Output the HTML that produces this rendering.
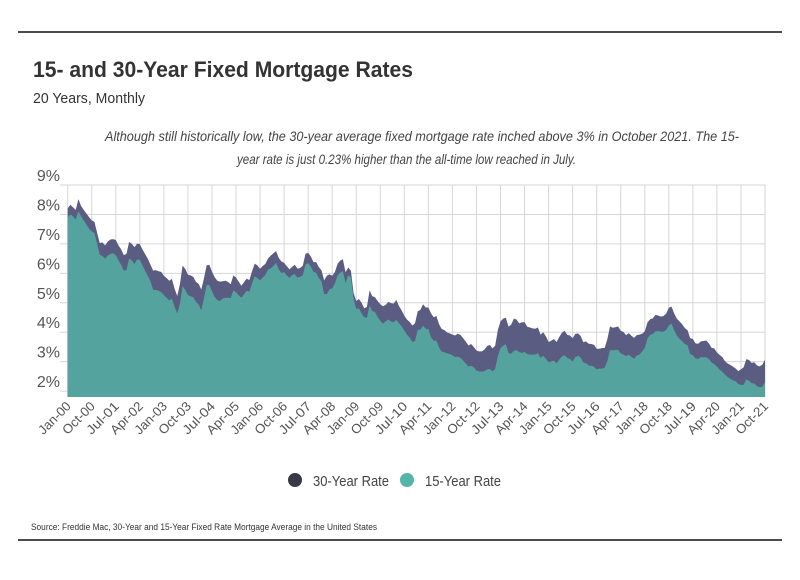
<!DOCTYPE html>
<html><head><meta charset="utf-8"><style>
html,body{margin:0;padding:0;background:#fff;}
svg text{font-family:"Liberation Sans",sans-serif;}
</style></head><body>
<svg id="chart" width="800" height="575" viewBox="0 0 800 575" xmlns="http://www.w3.org/2000/svg">
<line x1="18" y1="32" x2="782" y2="32" stroke="#111" stroke-width="1.5"/>
<text x="33" y="77" font-size="22" font-weight="bold" fill="#333" textLength="380" lengthAdjust="spacingAndGlyphs">15- and 30-Year Fixed Mortgage Rates</text>
<text x="33" y="103" font-size="15" fill="#333" textLength="112" lengthAdjust="spacingAndGlyphs">20 Years, Monthly</text>
<text x="105" y="141" font-size="14" font-style="italic" fill="#444" textLength="634" lengthAdjust="spacingAndGlyphs">Although still historically low, the 30-year average fixed mortgage rate inched above 3% in October 2021. The 15-</text>
<text x="237" y="164" font-size="14" font-style="italic" fill="#444" textLength="339" lengthAdjust="spacingAndGlyphs">year rate is just 0.23% higher than the all-time low reached in July.</text>
<g id="grid"></g>
<g id="areas"></g>
<g id="yaxis"></g>
<g id="xaxis"></g>
<g>
<g><circle cx="295" cy="480" r="7" fill="#363a45"/><text x="313" y="486" font-size="15" fill="#444" textLength="76" lengthAdjust="spacingAndGlyphs">30-Year Rate</text></g>
<g><circle cx="407" cy="480" r="7" fill="#52b5a8"/><text x="425" y="486" font-size="15" fill="#444" textLength="76" lengthAdjust="spacingAndGlyphs">15-Year Rate</text></g>
</g>
<text x="31" y="530" font-size="9" fill="#333" textLength="346" lengthAdjust="spacingAndGlyphs">Source:  Freddie Mac, 30-Year  and 15-Year Fixed Rate Mortgage Average in the United States</text>
<line x1="18" y1="540" x2="782" y2="540" stroke="#111" stroke-width="1.5"/>
</svg>
<script>
const rate30 = [
8.21,8.33,8.24,8.15,8.52,8.29,8.15,8.03,7.91,7.80,7.75,7.38,
7.03,7.05,6.95,7.08,7.15,7.16,7.13,6.95,6.82,6.62,6.66,7.07,
7.00,6.89,7.01,6.99,6.81,6.65,6.49,6.29,6.09,6.11,6.07,6.05,
5.92,5.84,5.75,5.81,5.48,5.23,5.63,6.26,6.15,5.95,5.93,5.88,
5.71,5.64,5.45,5.83,6.27,6.29,6.06,5.87,5.75,5.72,5.73,5.75,
5.71,5.63,5.93,5.86,5.72,5.58,5.70,5.82,5.77,6.07,6.33,6.27,
6.15,6.25,6.32,6.51,6.60,6.68,6.76,6.52,6.40,6.36,6.24,6.14,
6.22,6.29,6.16,6.18,6.26,6.66,6.70,6.57,6.38,6.38,6.21,6.10,
5.76,5.92,5.97,5.92,6.04,6.32,6.43,6.48,6.04,6.20,6.09,5.33,
5.06,5.13,5.00,4.81,4.86,5.42,5.22,5.19,5.06,4.95,4.88,4.93,
5.03,4.99,4.97,5.10,4.89,4.74,4.56,4.43,4.35,4.23,4.30,4.71,
4.76,4.95,4.84,4.84,4.64,4.51,4.55,4.27,4.11,4.07,3.99,3.96,
3.92,3.89,3.95,3.91,3.80,3.68,3.55,3.60,3.50,3.38,3.35,3.35,
3.41,3.53,3.57,3.45,3.54,4.07,4.37,4.46,4.49,4.19,4.26,4.46,
4.43,4.30,4.34,4.34,4.19,4.16,4.13,4.12,4.16,3.92,4.00,3.86,
3.67,3.71,3.77,3.67,3.84,3.98,4.05,3.91,3.89,3.80,3.94,3.96,
3.87,3.66,3.69,3.61,3.60,3.57,3.44,3.44,3.46,3.47,3.77,4.20,
4.15,4.17,4.20,4.05,4.01,3.90,3.97,3.88,3.81,3.90,3.92,3.95,
4.03,4.33,4.44,4.47,4.59,4.57,4.53,4.55,4.63,4.83,4.87,4.64,
4.46,4.37,4.27,4.14,4.07,3.80,3.77,3.62,3.61,3.69,3.70,3.72,
3.62,3.47,3.45,3.31,3.23,3.16,3.02,2.94,2.89,2.83,2.77,2.68,
2.74,2.81,3.08,3.06,2.96,2.98,2.87,2.84,2.90,3.07];
const rate15 = [
7.90,8.00,7.93,7.83,8.11,7.94,7.80,7.66,7.52,7.42,7.37,7.00,
6.63,6.59,6.50,6.60,6.66,6.68,6.62,6.44,6.29,6.09,6.11,6.51,
6.44,6.32,6.47,6.46,6.27,6.08,5.91,5.73,5.44,5.44,5.41,5.36,
5.26,5.17,5.08,5.14,4.86,4.64,4.96,5.56,5.44,5.26,5.22,5.19,
5.03,4.94,4.74,5.16,5.60,5.61,5.39,5.20,5.09,5.06,5.14,5.17,
5.17,5.16,5.42,5.36,5.25,5.17,5.29,5.41,5.38,5.66,5.90,5.84,
5.76,5.86,5.95,6.13,6.17,6.25,6.36,6.14,6.01,6.04,5.93,5.85,
5.94,5.97,5.86,5.88,5.94,6.30,6.35,6.23,6.05,6.02,5.84,5.73,
5.29,5.30,5.46,5.49,5.66,5.93,6.02,6.07,5.67,5.94,5.85,5.15,
4.79,4.81,4.64,4.51,4.49,4.91,4.72,4.69,4.52,4.39,4.29,4.37,
4.43,4.36,4.34,4.42,4.30,4.20,4.06,3.92,3.82,3.67,3.70,4.08,
4.09,4.22,4.12,4.11,3.83,3.71,3.72,3.48,3.34,3.32,3.28,3.26,
3.22,3.16,3.17,3.13,3.04,2.94,2.83,2.86,2.81,2.70,2.67,2.66,
2.68,2.74,2.75,2.67,2.75,3.19,3.46,3.54,3.59,3.29,3.27,3.37,
3.39,3.33,3.30,3.33,3.26,3.24,3.24,3.24,3.29,3.13,3.20,3.10,
2.98,3.01,3.04,2.94,3.07,3.18,3.22,3.13,3.09,3.01,3.16,3.20,
3.14,2.97,2.95,2.87,2.86,2.83,2.74,2.77,2.76,2.80,3.02,3.40,
3.38,3.40,3.40,3.28,3.24,3.19,3.24,3.16,3.10,3.21,3.24,3.35,
3.46,3.79,3.91,3.94,4.03,4.04,4.02,4.02,4.08,4.23,4.29,4.07,
3.89,3.78,3.70,3.60,3.56,3.26,3.22,3.11,3.09,3.16,3.15,3.15,
3.09,2.97,2.92,2.83,2.73,2.66,2.56,2.48,2.42,2.37,2.34,2.24,
2.21,2.21,2.40,2.35,2.27,2.26,2.17,2.13,2.15,2.31];
const yTicks = [2,3,4,5,6,7,8,9];
const xTickLabels = ["Jan-00","Oct-00","Jul-01","Apr-02","Jan-03","Oct-03","Jul-04","Apr-05","Jan-06","Oct-06","Jul-07","Apr-08","Jan-09","Oct-09","Jul-10","Apr-11","Jan-12","Oct-12","Jul-13","Apr-14","Jan-15","Oct-15","Jul-16","Apr-17","Jan-18","Oct-18","Jul-19","Apr-20","Jan-21","Oct-21"];

const NS = "http://www.w3.org/2000/svg";
const X0 = 67.7, X1 = 765, YTOP = 185, YBOT = 397, VMAX = 9, VMIN = 1.8;
const n = rate30.length;
function xs(i){ return X0 + (X1 - X0) * i / (n - 1); }
function ys(v){ return YBOT - (YBOT - YTOP) * (v - VMIN) / (VMAX - VMIN); }
function mk(tag, attrs, parent){ const e = document.createElementNS(NS, tag); for (const k in attrs) e.setAttribute(k, attrs[k]); parent.appendChild(e); return e; }

const grid = document.getElementById('grid');
const yaxis = document.getElementById('yaxis');
yTicks.forEach(v => {
  const l = mk('line', {x1: 60, x2: X1, y1: ys(v), y2: ys(v), stroke: '#d6d6d6', 'stroke-width': 1}, grid);
  
  
  const t = mk('text', {x: 60, y: ys(v) - 4, 'font-size': 16, fill: '#555', 'text-anchor': 'end'}, yaxis);
  
  
  t.textContent = v + '%';
});
const xaxis = document.getElementById('xaxis');
xTickLabels.forEach((lab, k) => {
  const x = xs(k * 9);
  const l = mk('line', {x1: x, x2: x, y1: YTOP, y2: YBOT, stroke: '#d6d6d6', 'stroke-width': 1}, grid);
  
  
  const t = mk('text', {x: x + 4, y: YBOT + 10, 'font-size': 13, fill: '#555', 'text-anchor': 'end', transform: `rotate(-45 ${x + 4} ${YBOT + 10})`, textLength: 40, lengthAdjust: 'spacingAndGlyphs'}, xaxis);
  
  
  t.textContent = lab;
});
function areaPath(arr){
  let d = `M${xs(0)},${YBOT}`;
  arr.forEach((v, i) => { d += ` L${xs(i).toFixed(2)},${ys(v).toFixed(2)}`; });
  d += ` L${xs(arr.length - 1)},${YBOT} Z`;
  return d;
}
const areas = document.getElementById('areas');
const a30 = mk('path', {d: areaPath(rate30), fill: '#5b5c82'}, areas);


const a15 = mk('path', {d: areaPath(rate15), fill: '#54a39e'}, areas);


</script>
</body></html>
